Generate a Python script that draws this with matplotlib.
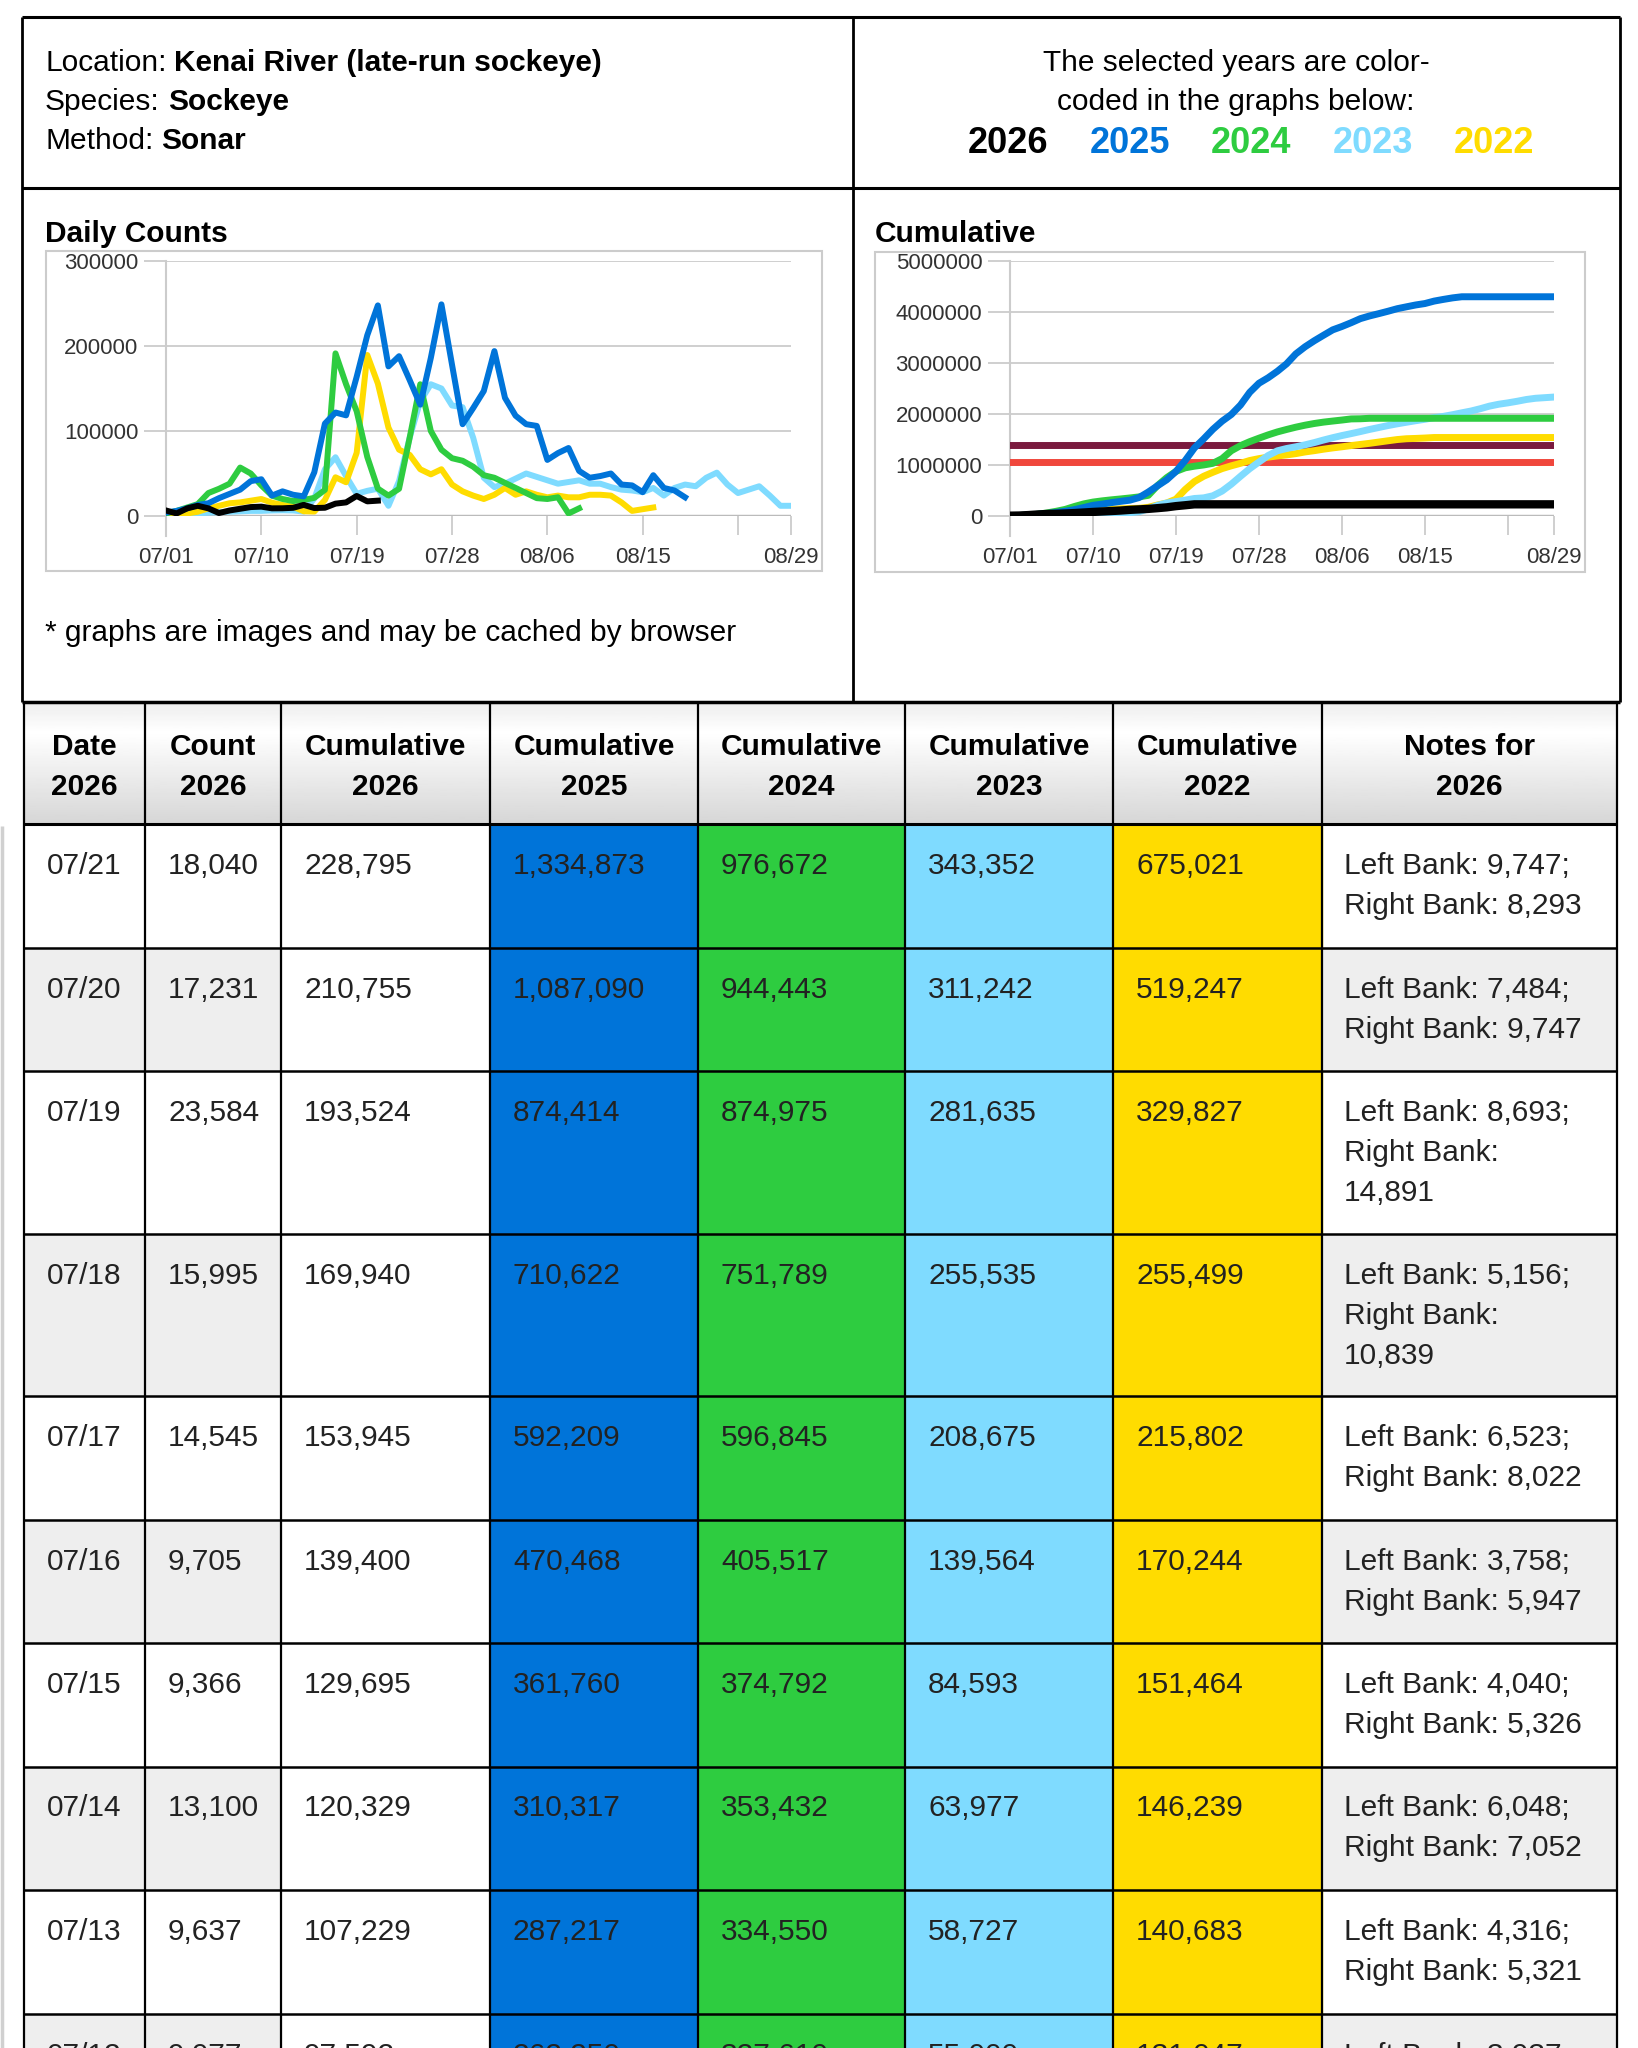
import numpy as np
import matplotlib
matplotlib.use('Agg')
import matplotlib.pyplot as plt
from matplotlib.patches import Rectangle
from matplotlib.ticker import StrMethodFormatter

plt.rcParams['font.family'] = ['Liberation Sans', 'DejaVu Sans']

W, H = 1638, 2048

# year colours
c26, c25, c24, c23, c22 = '#000000', '#0074D9', '#2ECC40', '#7FDBFF', '#FFDC00'
year_names = ['2026', '2025', '2024', '2023', '2022']
year_colors = [c26, c25, c24, c23, c22]

# daily counts, starting 07/01
daily_2026 = [6500, 3000, 9000, 12000, 9000, 3500, 6500, 8500, 10500, 11000, 9015,
              9077, 9637, 13100, 9366, 9705, 14545, 15995, 23584, 17231, 18040]
daily_2025 = [4000, 6000, 9000, 13000, 15000, 21000, 26000, 31000, 41000, 43217, 24000,
              29000, 25000, 23100, 51443, 108708, 121741, 118413, 163792, 212676, 247783,
              176000, 188000, 160000, 131000, 186000, 249000, 178000, 108000, 127000, 147000,
              194000, 139000, 118000, 108000, 106000, 66000, 74000, 80000, 53000, 45000,
              47000, 50000, 37000, 36000, 28000, 48000, 33000, 30000, 22000]
daily_2024 = [3000, 6000, 10000, 14000, 27000, 32000, 38000, 57000, 50000, 36000, 24000,
              20000, 17550, 18882, 21360, 30725, 191328, 154944, 123186, 69468, 32229,
              24000, 32000, 92000, 155000, 100000, 78000, 68000, 65000, 58000, 48000,
              45000, 39000, 33000, 27000, 21000, 20000, 22000, 3000, 9000]
daily_2023 = [1000, 1500, 2500, 3000, 4000, 4500, 5000, 5500, 6000, 6000, 6500,
              6727, 6500, 5250, 20616, 54971, 69111, 46860, 26100, 29607, 32110,
              12000, 41000, 92000, 135000, 155000, 150000, 130000, 128000, 92000, 45000,
              34000, 38000, 44000, 50000, 46000, 42000, 38000, 40000, 42000, 38000,
              38000, 34000, 31000, 30000, 28000, 33000, 24000, 33000, 37000, 35000,
              45000, 51000, 37000, 27000, 31000, 35000, 24000, 12000, 12000]
daily_2022 = [1000, 2000, 3000, 5000, 9000, 12000, 15000, 16000, 18000, 20000, 15683,
              13000, 11000, 5556, 5225, 18780, 45558, 39697, 74328, 189420, 155774,
              104000, 78000, 72000, 55000, 49000, 55000, 37000, 29000, 24000, 20000,
              25000, 33000, 25000, 29000, 25000, 22000, 24000, 22000, 22000, 25000,
              25000, 24000, 16000, 6000, 8000, 10000]

goal_upper = 1400000
goal_lower = 1050000

season_days = 60
tick_days = [0, 9, 18, 27, 36, 45, 54, 59]
tick_labels = ['07/01', '07/10', '07/19', '07/28', '08/06', '08/15', '', '08/29']

# table
table_cols = ['Date\n2026', 'Count\n2026', 'Cumulative\n2026', 'Cumulative\n2025',
              'Cumulative\n2024', 'Cumulative\n2023', 'Cumulative\n2022', 'Notes for\n2026']
dates = ['07/21', '07/20', '07/19', '07/18', '07/17', '07/16', '07/15', '07/14', '07/13', '07/12']
count26 = [18040, 17231, 23584, 15995, 14545, 9705, 9366, 13100, 9637, 9077]
cum26 = [228795, 210755, 193524, 169940, 153945, 139400, 129695, 120329, 107229, 97592]
cum25 = [1334873, 1087090, 874414, 710622, 592209, 470468, 361760, 310317, 287217, 262250]
cum24 = [976672, 944443, 874975, 751789, 596845, 405517, 374792, 353432, 334550, 327610]
cum23 = [343352, 311242, 281635, 255535, 208675, 139564, 84593, 63977, 58727, 55000]
cum22 = [675021, 519247, 329827, 255499, 215802, 170244, 151464, 146239, 140683, 131047]
left_bank = [9747, 7484, 8693, 5156, 6523, 3758, 4040, 6048, 4316, 3937]
right_bank = [8293, 9747, 14891, 10839, 8022, 5947, 5326, 7052, 5321, 5140]

FS = 21.5

fig = plt.figure(figsize=(W / 100, H / 100), dpi=100)
bg = fig.add_axes([0, 0, 1, 1])
bg.axis('off')


def hline(y, x0, x1, lw=2.0, color='black'):
    bg.plot([x0, x1], [y, y], color=color, lw=lw, solid_capstyle='butt', zorder=5)


def vline(x, y0, y1, lw=2.0, color='black'):
    bg.plot([x, x], [y0, y1], color=color, lw=lw, solid_capstyle='butt', zorder=5)


# ---- header box ----
hline(17, 22, 1620, lw=2.2)
hline(188, 22, 1620, lw=2.2)
hline(702, 22, 1620, lw=2.5)
vline(22, 17, 702)
vline(853, 17, 702)
vline(1620, 17, 702)

renderer = fig.canvas.get_renderer()
bg.set_xlim(0, W)
bg.set_ylim(H, 0)
info = [('Location:', 'Kenai River (late-run sockeye)'), ('Species:', 'Sockeye'), ('Method:', 'Sonar')]
for (lab, val), y in zip(info, [71, 110, 149]):
    t = bg.text(45, y, lab, fontsize=FS, va='baseline', ha='left')
    x1 = t.get_window_extent(renderer).x1
    bg.text(x1 + 8, y, val, fontsize=FS, fontweight='bold', va='baseline', ha='left')

bg.text(1236, 71, 'The selected years are color-', fontsize=FS, ha='center', va='baseline')
bg.text(1236, 110, 'coded in the graphs below:', fontsize=FS, ha='center', va='baseline')
for name, col, x in zip(year_names, year_colors, [1008, 1130, 1251, 1373, 1494]):
    bg.text(x, 153, name, fontsize=26, fontweight='bold', color=col, ha='center', va='baseline')

# ---- chart section ----
bg.text(45, 242, 'Daily Counts', fontsize=FS, fontweight='bold', va='baseline')
bg.text(875, 242, 'Cumulative', fontsize=FS, fontweight='bold', va='baseline')
bg.text(45, 641, '* graphs are images and may be cached by browser', fontsize=FS, va='baseline')
bg.add_patch(Rectangle((46, 251), 776, 320, fill=False, ec='#cccccc', lw=1.5))
bg.add_patch(Rectangle((875, 252), 710, 320, fill=False, ec='#cccccc', lw=1.5))


def px_axes(x0, y_top, x1, y_bottom):
    return fig.add_axes([x0 / W, 1 - y_bottom / H, (x1 - x0) / W, (y_bottom - y_top) / H])


def setup_chart(ax, ymax, ystep):
    ax.set_facecolor('none')
    for s in ax.spines.values():
        s.set_visible(False)
    ax.set_xlim(0, season_days - 1)
    ax.set_ylim(0, ymax)
    ax.set_yticks(np.arange(0, ymax + 1, ystep))
    ax.yaxis.set_major_formatter(StrMethodFormatter('{x:.0f}'))
    ax.set_xticks(tick_days)
    ax.set_xticklabels(tick_labels)
    ax.tick_params(axis='y', length=16, width=1.3, color='#cccccc', pad=4,
                   labelsize=16, labelcolor='#333333')
    ax.tick_params(axis='x', length=14, width=1.3, color='#cccccc', pad=8,
                   labelsize=16, labelcolor='#333333')
    ax.set_axisbelow(True)
    ax.grid(axis='y', color='#cccccc', lw=1.3)
    ax.grid(axis='x', visible=False)
    ax.axhline(0, color='#bbbbbb', lw=2.5, zorder=1)
    ax.plot([0, 0], [-0.078, 1], transform=ax.transAxes, color='#cccccc', lw=1.5,
            clip_on=False, zorder=1)


daily = [daily_2023, daily_2022, daily_2024, daily_2025, daily_2026]
daily_colors = [c23, c22, c24, c25, c26]

ax1 = px_axes(166, 261, 791, 516)
setup_chart(ax1, 300000, 100000)
for series, col in zip(daily, daily_colors):
    ax1.plot(np.arange(len(series)), series, color=col, lw=4.3, zorder=3)

ax2 = px_axes(1010, 261, 1554, 516)
setup_chart(ax2, 5000000, 1000000)
ax2.axhline(goal_upper, color='#7a1a3e', lw=5, zorder=2)
ax2.axhline(goal_lower, color='#f0473c', lw=5, zorder=2)
for series, col in zip([daily_2022, daily_2023, daily_2024, daily_2025, daily_2026],
                       [c22, c23, c24, c25, c26]):
    cum = np.cumsum(series)
    cum = np.concatenate([cum, np.full(season_days - len(cum), cum[-1])])
    ax2.plot(np.arange(season_days), cum, color=col, lw=5 if col != c26 else 6, zorder=3)

# ---- table ----
col_x = [24, 145, 281, 490, 698, 905, 1113, 1322, 1617]
head_top, head_bot = 702, 824

grad = np.concatenate([np.linspace(0.93, 1.0, 25), np.linspace(1.0, 0.84, 75)])
bg.imshow(grad[:, None], extent=[col_x[0], col_x[-1], head_bot, head_top], aspect='auto',
          cmap='gray', vmin=0, vmax=1, zorder=0)
for i, lab in enumerate(table_cols):
    cx = (col_x[i] + col_x[i + 1]) / 2
    l1, l2 = lab.split('\n')
    bg.text(cx, 755, l1, fontsize=FS, fontweight='bold', ha='center', va='baseline', zorder=6)
    bg.text(cx, 795, l2, fontsize=FS, fontweight='bold', ha='center', va='baseline', zorder=6)

fills = {3: c25, 4: c24, 5: c23, 6: c22}
for ci, col in fills.items():
    bg.add_patch(Rectangle((col_x[ci], head_bot), col_x[ci + 1] - col_x[ci], H - head_bot,
                           color=col, zorder=1))

row_top = head_bot
for r in range(len(dates)):
    notes = [f'Left Bank: {left_bank[r]:,};']
    if right_bank[r] >= 10000:
        notes += ['Right Bank:', f'{right_bank[r]:,}']
    else:
        notes += [f'Right Bank: {right_bank[r]:,}']
    row_h = 45.5 + 39 * len(notes)
    if r % 2 == 1:
        for ci in (0, 1, 7):
            bg.add_patch(Rectangle((col_x[ci], row_top), col_x[ci + 1] - col_x[ci], row_h,
                                   color='#eeeeee', zorder=1))
    cells = [dates[r], f'{count26[r]:,}', f'{cum26[r]:,}', f'{cum25[r]:,}', f'{cum24[r]:,}',
             f'{cum23[r]:,}', f'{cum22[r]:,}']
    base = row_top + 50
    for ci, txt in enumerate(cells):
        bg.text(col_x[ci] + 23, base, txt, fontsize=FS, color='#222222', va='baseline', zorder=6)
    for k, line in enumerate(notes):
        bg.text(col_x[7] + 22, base + 40 * k, line, fontsize=FS, color='#222222',
                va='baseline', zorder=6)
    row_top += row_h
    hline(row_top, col_x[0], col_x[-1], lw=1.8)

hline(head_bot, col_x[0], col_x[-1], lw=2.2)
for x in col_x:
    vline(x, head_top, H, lw=1.6)
vline(2, 826, H, lw=2.5, color='#d0d0d0')

bg.set_xlim(0, W)
bg.set_ylim(H, 0)

fig.savefig('out.png', dpi=100)
